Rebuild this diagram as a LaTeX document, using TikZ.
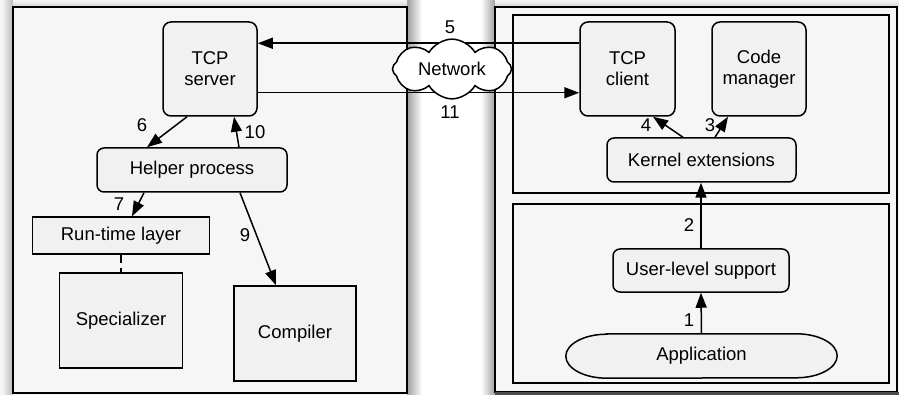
\documentclass[tikz,border=0pt]{standalone}
\usepackage{fontspec}
\setmainfont{Liberation Sans}
\usetikzlibrary{arrows.meta,shapes.symbols}
\definecolor{bgc}{HTML}{F5F5F5}
\definecolor{panelc}{HTML}{F6F6F6}
\definecolor{boxc}{HTML}{F1F1F1}
\tikzset{
  panel/.style={draw=black, line width=1.5pt, fill=panelc},
  rbox/.style={draw=black, line width=1.5pt, fill=boxc, rounded corners=8pt, inner sep=2pt, align=center, font=\fontsize{18.5}{21}\selectfont},
  sbox/.style={draw=black, line width=1.5pt, fill=boxc, inner sep=2pt, align=center, font=\fontsize{18.5}{21}\selectfont},
  plain/.style={inner sep=2pt, align=center, font=\fontsize{18.5}{21}\selectfont},
  num/.style={inner sep=0pt, font=\fontsize{18.5}{21}\selectfont},
  conn/.style={line width=1.5pt, -{Triangle[length=15pt,width=11pt]}},
  line/.style={line width=1.5pt},
}
\begin{document}
\begin{tikzpicture}[x=1pt,y=-1pt]
\useasboundingbox (0,0) rectangle (899,395);
% background
\fill[bgc] (0,0) rectangle (899,395);
\fill[white] (407,0) rectangle (495,395);
\shade[left color=gray!75, right color=white] (407,0) rectangle (422,395);
\shade[left color=white, right color=gray!75] (481,0) rectangle (495,395);
\shade[left color=bgc, right color=gray!55] (2,0) rectangle (13,395);
\shade[top color=bgc, bottom color=gray!35] (13,0) rectangle (407,7);
\shade[top color=bgc, bottom color=gray!35] (495,0) rectangle (899,7);
% panels
\draw[panel] (13,7) rectangle (407,393);
\draw[panel] (495,7) rectangle (897,392);
\fill[gray!60!black] (495,392) rectangle (899,395);
\draw[panel] (513,15) rectangle (889,193);
\draw[panel] (513,204) rectangle (889,383);

% left side nodes
\node[rbox, minimum width=94pt, minimum height=94pt] (tcps) at (210,69) {TCP\\server};
\node[rbox, rounded corners=7pt, minimum width=190pt, minimum height=44pt] (helper) at (192,170) {Helper process};
\node[sbox, minimum width=177pt, minimum height=37pt] (rt) at (121,235.5) {Run-time layer};
\node[sbox, minimum width=123pt, minimum height=95pt] (spec) at (121,320.5) {Specializer};
\node[sbox, minimum width=122pt, minimum height=95pt] (comp) at (295,333.5) {Compiler};

% right side nodes
\node[rbox, minimum width=95pt, minimum height=94pt] (tcpc) at (627.5,69) {TCP\\client};
\node[rbox, minimum width=94pt, minimum height=94pt] (cm) at (759,69) {Code\\manager};
\node[rbox, rounded corners=7pt, minimum width=189pt, minimum height=44pt] (kern) at (701.5,160) {Kernel extensions};
\node[rbox, rounded corners=7pt, minimum width=176pt, minimum height=43pt] (ule) at (701,270.5) {User-level support};
\node[plain, minimum width=271pt, minimum height=44pt] (app) at (701.5,356) {};
\draw[line, fill=boxc] ([xshift=41pt]app.north west) -- ([xshift=-41pt]app.north east)
  arc[start angle=90, end angle=-90, x radius=41pt, y radius=22pt]
  -- ([xshift=41pt]app.south west)
  arc[start angle=270, end angle=90, x radius=41pt, y radius=22pt] -- cycle;
\node[plain] at (app.center) {Application};

% network connectors
\draw[conn] ([yshift=-22pt]tcpc.north west) -- ([yshift=-22pt]tcps.north east);
\draw[conn] ([yshift=24pt]tcps.south east) -- ([yshift=24pt]tcpc.south west);
\node[cloud, cloud puffs=8, cloud puff arc=120, aspect=2.3, draw=black, line width=1.5pt, fill=white,
      minimum width=119pt, minimum height=54pt, inner sep=0pt, font=\fontsize{18.5}{21}\selectfont] (net) at (452,69) {Network};

% left connectors
\draw[conn] ([xshift=-23pt]tcps.south) -- ([xshift=-45pt]helper.north);
\draw[conn] ([xshift=47pt]helper.north) -- ([xshift=24pt]tcps.south);
\draw[conn] ([xshift=-48pt]helper.south) -- ([xshift=11pt]rt.north);
\draw[conn] ([xshift=48pt]helper.south) -- ([xshift=-19pt]comp.north);
\draw[line, dash pattern=on 8pt off 5pt] (rt.south) -- (spec.north);

% right connectors
\draw[conn] ([xshift=-18.5pt]kern.north) -- ([xshift=25.5pt]tcpc.south);
\draw[conn] ([xshift=13.5pt]kern.north) -- ([xshift=-31pt]cm.south);
\draw[conn] (ule.north) -- (ule.north |- kern.south);
\draw[conn] (app.north) -- (ule.south);

% labels
\node[num] (l5) at (450,27) {5};
\node[num] (l11) at (450,112) {11};
\node[num] (l6) at (142,125) {6};
\node[num] (l10) at (255,132) {10};
\node[num] (l7) at (119,204) {7};
\node[num] (l9) at (245,235) {9};
\node[num] (l4) at (646,125) {4};
\node[num] (l3) at (710,125) {3};
\node[num] (l2) at (689,225) {2};
\node[num] (l1) at (689,320) {1};
\end{tikzpicture}
\end{document}
